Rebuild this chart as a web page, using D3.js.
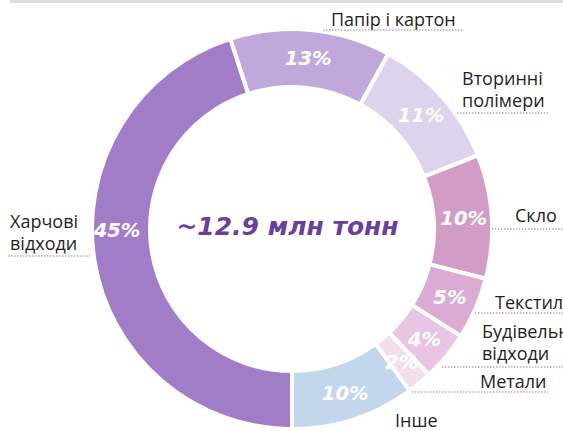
<!DOCTYPE html>
<html>
<head>
<meta charset="utf-8">
<script src="https://cdn.jsdelivr.net/npm/d3@7"></script>
<style>
  html, body { margin: 0; padding: 0; background: #fff; }
  svg { display: block; }
</style>
</head>
<body>
<div id="chart"></div>
<script>
// Categories and shares (%), clockwise from the top
const categories = ["Папір і картон", "Вторинні полімери", "Скло", "Текстиль", "Будівельні відходи", "Метали", "Інше", "Харчові відходи"];
const shares = [13, 11, 10, 5, 4, 2, 10, 45];
const colors = ["#c0a8da", "#ded2ec", "#d39cc6", "#dcabd3", "#e8c6e3", "#f2dfee", "#c2d6ec", "#a17dc8"];
const totalLabel = "~12.9 млн тонн";

// Outer label layout: text lines, text x, first baseline, dotted line x-range and y
const labelLayout = [
  { lines: ["Папір і картон"], tx: 331, ty: 26, x1: 323, x2: 463, ly: 30 },
  { lines: ["Вторинні", "полімери"], tx: 462, ty: 85, x1: 457, x2: 548, ly: 113 },
  { lines: ["Скло"], tx: 515, ty: 222, x1: 492, x2: 563, ly: 229 },
  { lines: ["Текстиль"], tx: 495, ty: 309, x1: 475, x2: 563, ly: 313 },
  { lines: ["Будівельні", "відходи"], tx: 482, ty: 338, x1: 442, x2: 563, ly: 367 },
  { lines: ["Метали"], tx: 480, ty: 388, x1: 412, x2: 548, ly: 392 },
  { lines: ["Інше"], tx: 395, ty: 427, x1: null },
  { lines: ["Харчові", "відходи"], tx: 10, ty: 228, x1: 8, x2: 90, ly: 256 }
];

const width = 563, height = 431;
const cx = 292, cy = 229, rOuter = 200, rInner = 142;

const svg = d3.select("#chart").append("svg")
  .attr("width", width)
  .attr("height", height);

// thin grey bar on top
svg.append("rect")
  .attr("x", 10).attr("y", 0)
  .attr("width", width - 10).attr("height", 3)
  .attr("fill", "#dcdcdc");

const data = categories.map((c, i) => ({ name: c, value: shares[i], color: colors[i], layout: labelLayout[i] }));

const pie = d3.pie()
  .value(d => d.value)
  .sort(null)
  .startAngle(-0.1 * Math.PI)
  .endAngle(1.9 * Math.PI);

const arc = d3.arc().innerRadius(rInner).outerRadius(rOuter);
const labelArc = d3.arc().innerRadius(172).outerRadius(172);

const g = svg.append("g").attr("transform", `translate(${cx},${cy})`);

const arcs = pie(data);

g.selectAll("path.slice")
  .data(arcs)
  .join("path")
  .attr("class", "slice")
  .attr("d", arc)
  .attr("fill", d => d.data.color)
  .attr("stroke", "#fff")
  .attr("stroke-width", 4)
  .attr("stroke-linejoin", "miter");

g.selectAll("text.pct")
  .data(arcs)
  .join("text")
  .attr("class", "pct")
  .attr("transform", d => {
    let p = labelArc.centroid(d);
    // the biggest slice has its label at the far left
    if (d.data.name === "Харчові відходи") p = [-175, 1];
    return `translate(${p[0]},${p[1]})`;
  })
  .attr("text-anchor", "middle")
  .attr("dy", "0.36em")
  .attr("fill", "#fff")
  .style("font-family", "'DejaVu Sans', sans-serif")
  .style("font-weight", "bold")
  .style("font-style", "italic")
  .style("font-size", "19.5px")
  .text(d => d.data.value + "%");

// centre total
g.append("text")
  .attr("x", -4.5)
  .attr("y", 6)
  .attr("text-anchor", "middle")
  .attr("fill", "#6b3fa0")
  .style("font-family", "'DejaVu Sans', sans-serif")
  .style("font-weight", "bold")
  .style("font-style", "italic")
  .style("font-size", "25px")
  .text(totalLabel);

// outer labels with dotted underlines
const labels = svg.append("g");
data.forEach(d => {
  const l = d.layout;
  const t = labels.append("text")
    .attr("x", l.tx)
    .attr("y", l.ty)
    .attr("fill", "#1f1f1f")
    .style("font-family", "'Open Sans', sans-serif")
    .style("font-size", "18px");
  l.lines.forEach((line, i) => {
    t.append("tspan").attr("x", l.tx).attr("dy", i === 0 ? 0 : 22).text(line);
  });
  if (l.x1 != null) {
    labels.append("line")
      .attr("x1", l.x1).attr("x2", l.x2)
      .attr("y1", l.ly).attr("y2", l.ly)
      .attr("stroke", "#9b6fc7")
      .attr("stroke-width", 1)
      .attr("stroke-dasharray", "1.5,1.5");
  }
});
</script>
</body>
</html>
